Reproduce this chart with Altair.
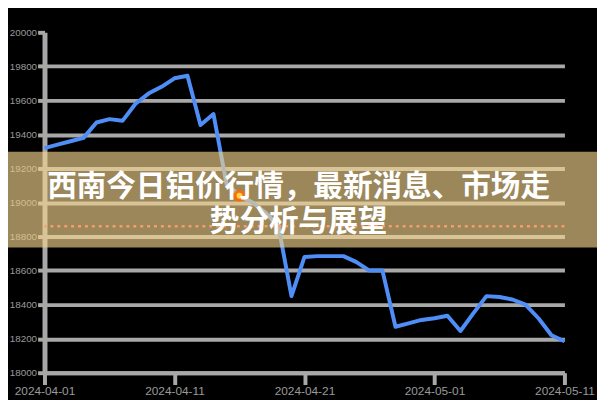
import altair as alt
import pandas as pd

# ---- data ----
DATES = [d.strftime("%Y-%m-%dT00:00:00") for d in pd.date_range("2024-04-01", "2024-05-11", freq="D")]
PRICES = [19320, 19340, 19360, 19380, 19470, 19490, 19480, 19580, 19640, 19680,
          19730, 19745, 19455, 19520, 19110, 19040, 19000, 18940, 18860, 18450,
          18680, 18685, 18685, 18685, 18650, 18600, 18600, 18270, 18290, 18310,
          18320, 18335, 18245, 18350, 18450, 18445, 18430, 18400, 18320, 18220,
          18185]
Y_TICKS = [18000, 18200, 18400, 18600, 18800, 19000, 19200, 19400, 19600, 19800, 20000]
X_TICKS = [(2024, 4, 1), (2024, 4, 11), (2024, 4, 21), (2024, 5, 1), (2024, 5, 11)]
HIGHLIGHT_DATE = ["2024-04-16T00:00:00"]
HIGHLIGHT_PRICE = [19040]
REF_LEVEL = [18860]
TITLE_LINES = ["西南今日铝价行情，最新消息、市场走", "势分析与展望"]

GRID = "#a8a8a8"
LABEL = "#9a9a9a"

df = pd.DataFrame({"date": DATES, "price": PRICES})
hl = pd.DataFrame({"date": HIGHLIGHT_DATE, "price": HIGHLIGHT_PRICE})
ref = pd.DataFrame({"price": REF_LEVEL})
one = pd.DataFrame({"k": [0]})

x_enc = alt.X(
    "date:T", title=None,
    scale=alt.Scale(nice=False),
    axis=alt.Axis(
        values=[alt.DateTime(year=y, month=m, date=d) for (y, m, d) in X_TICKS],
        tickCount=20,
        format="%Y-%m-%d", grid=False,
        domainColor=GRID, domainWidth=4,
        tickColor=GRID, tickWidth=4, tickSize=12,
        labelColor=LABEL, labelFontSize=12, labelPadding=1,
        labelFont="Liberation Sans", labelFlush=False, labelOverlap=False,
    ),
)
y_enc = alt.Y(
    "price:Q", title=None,
    scale=alt.Scale(domain=[Y_TICKS[0], Y_TICKS[-1]], nice=False, zero=False),
    axis=alt.Axis(
        values=Y_TICKS, tickCount=30, format="d", grid=True,
        gridColor={"condition": {"test": "datum.value >= 20000", "value": "transparent"}, "value": GRID},
        gridWidth=4,
        domainColor=GRID, domainWidth=5,
        tickColor=GRID, tickWidth=4, tickSize=7,
        labelColor=LABEL, labelFontSize=10, labelPadding=1,
        labelFont="Liberation Sans", labelOverlap=False, labelFlush=False,
    ),
)

line = alt.Chart(df).mark_line(color="#4f8ef7", strokeWidth=4, strokeJoin="round").encode(x=x_enc, y=y_enc)

rule = alt.Chart(ref).mark_rule(color="#ff3b30", strokeWidth=2.5, strokeDash=[3, 4]).encode(
    y=alt.Y("price:Q")
)

banner = alt.Chart(one).mark_rect(color="#f2d38d", opacity=0.64).encode(
    x=alt.value(-45), x2=alt.value(562), y=alt.value(121), y2=alt.value(218)
)

glow = alt.Chart(hl).mark_point(filled=True, color="#ff6a00", size=150, opacity=0.9).encode(
    x=alt.X("date:T"), y=alt.Y("price:Q")
)
core = alt.Chart(hl).mark_point(filled=True, color="#ffd84a", size=35, opacity=0.95).encode(
    x=alt.X("date:T"), y=alt.Y("price:Q")
)

title = alt.Chart(one).mark_text(
    text=TITLE_LINES, font="Noto Sans CJK SC", fontWeight="bold", fontSize=30,
    lineHeight=35, color="#ffffff", align="center", baseline="middle",
).encode(x=alt.value(257.5), y=alt.value(157))

chart = alt.layer(line, rule, banner, glow, core, title).properties(
    width=527, height=345,
    padding={"left": 37, "top": 22, "right": 33, "bottom": 25},
    autosize=alt.AutoSizeParams(type="none"),
    background="#000000",
).configure_view(stroke=None)

chart.save("out.html", embed_options={"renderer": "svg", "actions": False})
